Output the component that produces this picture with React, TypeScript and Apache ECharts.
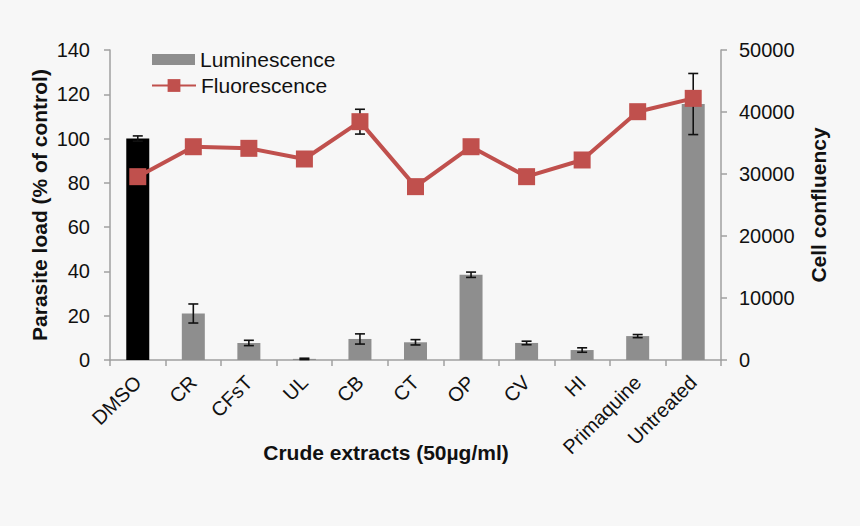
import React, { useEffect, useRef } from "react";
import * as echarts from "echarts";

const categories = ["DMSO", "CR", "CFsT", "UL", "CB", "CT", "OP", "CV", "HI", "Primaquine", "Untreated"];
const luminescence = [100, 21, 7.7, 0.5, 9.5, 8, 38.5, 7.7, 4.5, 10.8, 115.6];
const luminescenceErr = [1.2, 4.3, 1.2, 0.3, 2.3, 1.2, 1.2, 0.8, 1.0, 0.7, 13.8];
const fluorescence = [29570, 34400, 34140, 32420, 38440, 27960, 34400, 29570, 32260, 40050, 42200];
const fluorescenceErr = [0, 0, 0, 0, 2000, 0, 0, 0, 0, 0, 0];

const FONT = "Liberation Sans, Arial, sans-serif";

function errorSeries(values: number[], errs: number[], yAxisIndex: number, z: number) {
  return {
    type: "custom",
    yAxisIndex,
    z,
    silent: true,
    data: values.map((v, i) => [i, v - errs[i], v + errs[i]]),
    renderItem: (params: any, api: any) => {
      const idx = api.value(0);
      const lo = api.coord([idx, api.value(1)]);
      const hi = api.coord([idx, api.value(2)]);
      if (Math.abs(lo[1] - hi[1]) < 0.5) return null;
      const w = 5;
      const style = { stroke: "#111", lineWidth: 1.6 };
      return {
        type: "group",
        children: [
          { type: "line", shape: { x1: lo[0], y1: lo[1], x2: hi[0], y2: hi[1] }, style },
          { type: "line", shape: { x1: lo[0] - w, y1: lo[1], x2: lo[0] + w, y2: lo[1] }, style },
          { type: "line", shape: { x1: hi[0] - w, y1: hi[1], x2: hi[0] + w, y2: hi[1] }, style },
        ],
      };
    },
  };
}

export default function App() {
  const ref = useRef<HTMLDivElement>(null);
  useEffect(() => {
    document.body.style.margin = "0";
    const chart = echarts.init(ref.current!, null, { renderer: "svg" });
    const axisLine = { show: true, lineStyle: { color: "#a0a0a0", width: 1.5 } };
    const tick = { show: true, length: 6, lineStyle: { color: "#a0a0a0", width: 1.5 } };
    const legendText = { fontSize: 21, color: "#111", fontFamily: FONT };
    chart.setOption({
      animation: false,
      backgroundColor: "#f7f7f7",
      textStyle: { fontFamily: FONT },
      grid: { left: 110, right: 139, top: 50, bottom: 166 },
      legend: [
        {
          left: 147,
          top: 44,
          itemWidth: 43,
          itemHeight: 11,
          textStyle: legendText,
          data: [{ name: "Luminescence", icon: "rect" }],
        },
        {
          left: 146,
          top: 70,
          itemWidth: 44,
          itemHeight: 16,
          textStyle: legendText,
          data: [{ name: "Fluorescence" }],
        },
      ],
      xAxis: {
        type: "category",
        data: categories,
        axisLine,
        axisTick: { ...tick, alignWithLabel: false },
        axisLabel: { rotate: 45, fontSize: 20, color: "#111", margin: 19, interval: 0 },
        name: "Crude extracts (50µg/ml)",
        nameLocation: "middle",
        nameGap: 82,
        nameMoveOverlap: false,
        nameTextStyle: { fontSize: 21, fontWeight: "bold", color: "#111", padding: [0, 59, 0, 0] },
      },
      yAxis: [
        {
          type: "value",
          min: 0,
          max: 140,
          interval: 20,
          axisLine,
          axisTick: tick,
          splitLine: { show: false },
          axisLabel: { fontSize: 20, color: "#111", margin: 20 },
          name: "Parasite load (% of control)",
          nameLocation: "middle",
          nameGap: 60,
          nameRotate: 90,
          nameMoveOverlap: false,
          nameTextStyle: { fontSize: 21, fontWeight: "bold", color: "#111" },
        },
        {
          type: "value",
          position: "right",
          min: 0,
          max: 50000,
          interval: 10000,
          axisLine,
          axisTick: tick,
          splitLine: { show: false },
          axisLabel: { fontSize: 20, color: "#111", margin: 18, formatter: (v: number) => String(v) },
          name: "Cell confluency",
          nameLocation: "middle",
          nameGap: 87,
          nameRotate: 90,
          nameMoveOverlap: false,
          nameTextStyle: { fontSize: 21, fontWeight: "bold", color: "#111" },
        },
      ],
      series: [
        {
          name: "Luminescence",
          type: "bar",
          yAxisIndex: 0,
          barWidth: 23,
          itemStyle: { color: "#8e8e8e" },
          data: luminescence.map((v, i) =>
            i === 0 ? { value: v, itemStyle: { color: "#000" } } : v
          ),
          z: 2,
        },
        errorSeries(luminescence, luminescenceErr, 0, 3),
        {
          name: "Fluorescence",
          type: "line",
          yAxisIndex: 1,
          data: fluorescence,
          symbol: "rect",
          symbolSize: 17,
          lineStyle: { color: "#c0504d", width: 4 },
          itemStyle: { color: "#c0504d" },
          z: 4,
        },
        errorSeries(fluorescence, fluorescenceErr, 1, 3),
      ],
    });
    return () => chart.dispose();
  }, []);
  return <div ref={ref} style={{ width: 860, height: 526 }} />;
}
